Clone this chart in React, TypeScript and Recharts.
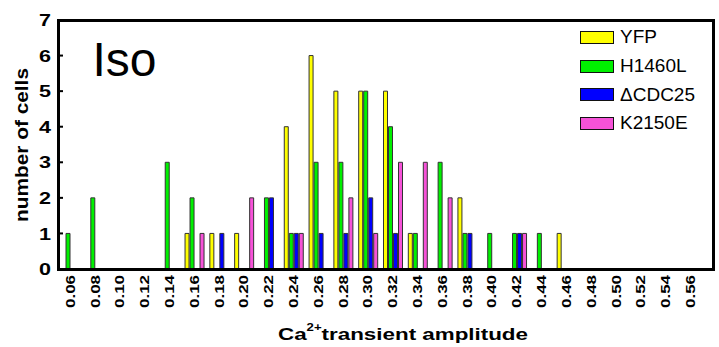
import {
  BarChart,
  Bar,
  XAxis,
  YAxis,
  Legend,
  Customized,
} from "recharts";

const bins = [
  "0.06", "0.08", "0.10", "0.12", "0.14", "0.16", "0.18", "0.20", "0.22",
  "0.24", "0.26", "0.28", "0.30", "0.32", "0.34", "0.36", "0.38", "0.40",
  "0.42", "0.44", "0.46", "0.48", "0.50", "0.52", "0.54", "0.56",
];
const yfp = [0, 0, 0, 0, 0, 1, 1, 1, 0, 4, 6, 5, 5, 5, 1, 0, 2, 0, 0, 0, 1, 0, 0, 0, 0, 0];
const h1460l = [1, 2, 0, 0, 3, 2, 0, 0, 2, 1, 3, 3, 5, 4, 1, 3, 1, 1, 1, 1, 0, 0, 0, 0, 0, 0];
const cdc25 = [0, 0, 0, 0, 0, 0, 1, 0, 2, 1, 1, 1, 2, 1, 0, 0, 1, 0, 1, 0, 0, 0, 0, 0, 0, 0];
const k2150e = [0, 0, 0, 0, 0, 1, 0, 2, 0, 1, 0, 2, 1, 3, 3, 2, 0, 0, 1, 0, 0, 0, 0, 0, 0, 0];
const yTicks = [0, 1, 2, 3, 4, 5, 6, 7];

const series = [
  { key: "yfp", name: "YFP", color: "#FFFF00" },
  { key: "h1460l", name: "H1460L", color: "#00F000" },
  { key: "cdc25", name: "\u0394CDC25", color: "#0000FF" },
  { key: "k2150e", name: "K2150E", color: "#F652D8" },
];

const data = bins.map((b, i) => ({
  bin: b,
  yfp: yfp[i],
  h1460l: h1460l[i],
  cdc25: cdc25[i],
  k2150e: k2150e[i],
}));

const font = "'Liberation Sans', Arial, sans-serif";
const W = 719;
const H = 347;
const margin = { top: 20, right: 6, left: 0, bottom: 0 };
const yAxisW = 58;
const xAxisH = 78;
const plotW = W - margin.right - yAxisW;
const plotH = H - xAxisH - margin.top;

// text top sits just under the axis line
const XTick = ({ x, payload }: any) => (
  <text
    transform={`translate(${x},${H - xAxisH + 6}) rotate(-90)`}
    textAnchor="end"
    dy="0.36em"
    fontSize={12}
    fontWeight="bold"
    fontFamily={font}
    fill="#000"
    textLength={33}
    lengthAdjust="spacingAndGlyphs"
  >
    {payload.value}
  </text>
);

// ticks point into the plot
const YTick = ({ y, payload }: any) => (
  <g>
    <rect x={yAxisW} y={y - 1} width={5} height={2} fill="#000" />
    <text
      x={yAxisW - 7}
      y={y}
      textAnchor="end"
      dy="0.36em"
      fontSize={17}
      fontWeight="bold"
      fontFamily={font}
      fill="#000"
      textLength={12}
      lengthAdjust="spacingAndGlyphs"
    >
      {payload.value}
    </text>
  </g>
);

const IsoLabel = () => (
  <text x={92.5} y={76} fontSize={48} fontFamily={font} fill="#000">
    Iso
  </text>
);

const LegendBox = () => (
  <div style={{ fontFamily: font, fontSize: 19, color: "#000" }}>
    {series.map((s) => (
      <div key={s.key} style={{ display: "flex", alignItems: "center", height: 28.7 }}>
        <div
          style={{
            width: 34,
            height: 13,
            boxSizing: "border-box",
            border: "1.5px solid #111",
            background: s.color,
            marginRight: 6,
          }}
        />
        <span>{s.name}</span>
      </div>
    ))}
  </div>
);

export default function App() {
  return (
    <div style={{ position: "absolute", left: 0, top: 0, width: W, height: H }}>
      <BarChart
        width={W}
        height={H}
        data={data}
        margin={margin}
        barSize={4}
        barGap={1}
      >
        <XAxis
          dataKey="bin"
          interval={0}
          height={xAxisH}
          padding={{ left: 0, right: 10 }}
          axisLine={false}
          tickLine={false}
          tick={<XTick />}
          label={{
            content: () => (
              <text
                x={278}
                y={340}
                fontSize={17}
                fontWeight="bold"
                fontFamily={font}
                fill="#000"
                textLength={250}
                lengthAdjust="spacingAndGlyphs"
              >
                Ca
                <tspan dy={-9} fontSize={10}>2+</tspan>
                <tspan dy={9}>transient amplitude</tspan>
              </text>
            ),
          }}
        />
        <YAxis
          domain={[0, 7]}
          ticks={yTicks}
          width={yAxisW}
          interval={0}
          axisLine={false}
          tickLine={false}
          tick={<YTick />}
          label={{
            content: () => (
              <text
                transform="translate(28,145) rotate(-90)"
                textAnchor="middle"
                fontSize={18}
                fontWeight="bold"
                fontFamily={font}
                fill="#000"
                textLength={154}
                lengthAdjust="spacingAndGlyphs"
              >
                number of cells
              </text>
            ),
          }}
        />
        <Legend
          layout="vertical"
          align="center"
          verticalAlign="middle"
          content={<LegendBox />}
          wrapperStyle={{ position: "absolute", left: 580, top: 23, width: "auto" }}
        />
        {series.map((s) => (
          <Bar
            key={s.key}
            dataKey={s.key}
            name={s.name}
            fill={s.color}
            stroke="#333"
            strokeWidth={1}
            isAnimationActive={false}
          />
        ))}
        <Customized component={IsoLabel} />
      </BarChart>
      {/* frame around the plot area */}
      <div
        style={{
          position: "absolute",
          left: yAxisW - 1.5,
          top: margin.top - 1.5,
          width: plotW + 3,
          height: plotH + 3,
          boxSizing: "border-box",
          border: "3px solid #000",
          pointerEvents: "none",
        }}
      />
    </div>
  );
}
